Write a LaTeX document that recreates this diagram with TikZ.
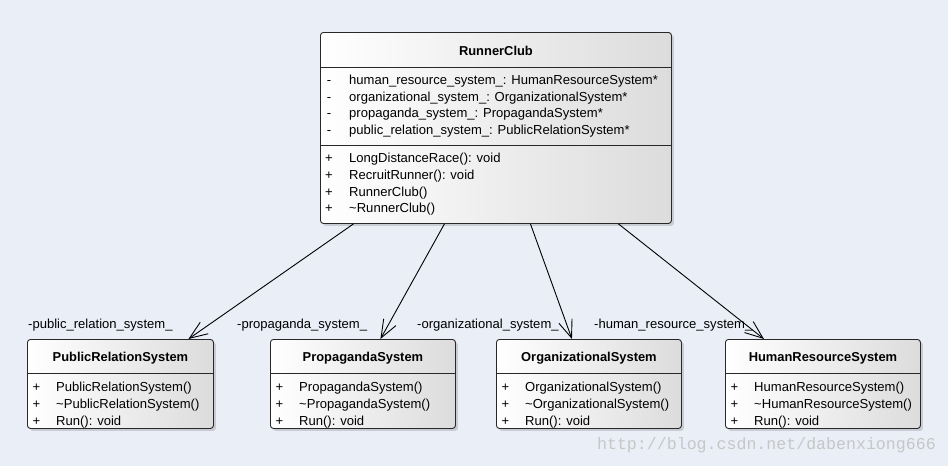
\documentclass[tikz,border=0pt]{standalone}
\usepackage{fontspec}
\setmainfont{Liberation Sans}
\setmonofont{Liberation Mono}
\usetikzlibrary{arrows.meta,positioning,shadows}
\definecolor{canvas}{RGB}{234,238,246}
\definecolor{boxline}{RGB}{40,40,40}
\definecolor{boxgray}{RGB}{220,220,220}
\tikzset{
    %Define standard arrow tip
    >={Straight Barb[length=18pt,width=14pt]},
    %Define style for class boxes
    classbox/.style={
           draw=boxline,
           line width=0.9pt,
           rounded corners=3pt,
           left color=white,
           right color=boxgray,
           drop shadow={shadow xshift=2.5pt,shadow yshift=-2.5pt,opacity=0.3},
           inner sep=0pt,
           anchor=north west,},
    divider/.style={draw=boxline, line width=0.9pt},
    classname/.style={
           font=\fontsize{12.9}{15}\selectfont\bfseries,
           text height=9pt,
           text depth=0pt,
           inner sep=0pt,},
    member/.style={
           font=\fontsize{13.05}{15}\selectfont,
           text height=9pt,
           text depth=0pt,
           inner sep=0pt,
           anchor=west,},
    role/.style={member},
    assoc/.style={
           ->,
           line width=0.9pt,}
}
\begin{document}
\begin{tikzpicture}[x=1pt,y=-1pt]
 %canvas
 \fill[canvas] (0,0) rectangle (948,466);
 \useasboundingbox (0,0) rectangle (948,466);

 %runner club
 \node[classbox, minimum width=351pt, minimum height=191pt] (club) at (320,32) {};
 \draw[divider] ([yshift=-35.5pt]club.north west) -- ([yshift=-35.5pt]club.north east);
 \draw[divider] ([yshift=-113.5pt]club.north west) -- ([yshift=-113.5pt]club.north east);
 \node[classname] (club-name) at ([yshift=-19pt]club.north) {RunnerClub};
 \foreach \i/\vis/\txt in {0/-/human\_resource\_system\_: HumanResourceSystem*,
                           1/-/organizational\_system\_: OrganizationalSystem*,
                           2/-/propaganda\_system\_: PropagandaSystem*,
                           3/-/public\_relation\_system\_: PublicRelationSystem*,
                           4/+/LongDistanceRace(): void,
                           5/+/RecruitRunner(): void,
                           6/+/RunnerClub(),
                           7/+/\textasciitilde RunnerClub()} {
   \pgfmathsetmacro{\dy}{\i<4 ? 48+16.67*\i : 59.6+16.67*\i}
   \node[member, anchor=center] (club-v\i) at ([xshift=9pt, yshift=-\dy pt]club.north west) {\vis};
   \node[member] (club-m\i) at ([xshift=29pt, yshift=-\dy pt]club.north west) {\txt};
 }

 %systems
 \foreach \n/\cls/\x/\w in {prs/PublicRelationSystem/27/186,
                            ps/PropagandaSystem/270/185,
                            os/OrganizationalSystem/496/185,
                            hrs/HumanResourceSystem/725/195} {
   \node[classbox, minimum width=\w pt, minimum height=89pt] (\n) at (\x,339) {};
   \draw[divider] ([yshift=-34pt]\n.north west) -- ([yshift=-34pt]\n.north east);
   \node[classname] (\n-name) at ([yshift=-18pt]\n.north) {\cls};
   \foreach \i/\txt in {0/\cls(), 1/\textasciitilde\cls(), 2/Run(): void} {
     \node[member, anchor=center] (\n-v\i) at ([xshift=9.4pt, yshift=-48.2pt-16.65pt*\i]\n.north west) {+};
     \node[member] (\n-m\i) at ([xshift=29pt, yshift=-48.2pt-16.65pt*\i]\n.north west) {\txt};
   }
 }

 %associations
 \draw[assoc] ([xshift=-142.5pt]club.south) -- ([xshift=68pt]prs.north);
 \draw[assoc] ([xshift=-51.5pt]club.south) -- ([xshift=17.5pt]ps.north);
 \draw[assoc] ([xshift=34.5pt]club.south) -- ([xshift=-17pt]os.north);
 \draw[assoc] ([xshift=122.5pt]club.south) -- ([xshift=-59pt]hrs.north);

 %role names
 \node[role] (prs-role) at (28,324) {-public\_relation\_system\_};
 \node[role] (ps-role) at (237,324) {-propaganda\_system\_};
 \node[role] (os-role) at (417,324) {-organizational\_system\_};
 \node[role] (hrs-role) at (594,324) {-human\_resource\_system\_};

 %watermark
 \node[font=\ttfamily\fontsize{16.6}{18}\selectfont, text=black!22, anchor=east, inner sep=0pt] (mark) at (936,445) {http://blog.csdn.net/dabenxiong666};

\end{tikzpicture}
\end{document}
